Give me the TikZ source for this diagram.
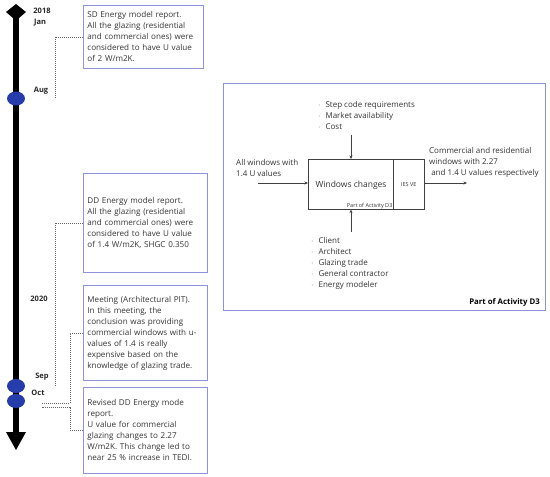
\documentclass[tikz,border=0pt]{standalone}
\usepackage{fontspec}
\setmainfont{Open Sans}
\usetikzlibrary{arrows.meta,shapes.geometric}
\definecolor{boxc}{HTML}{8E92D8}
\definecolor{dotc}{HTML}{2B46C8}
\begin{document}
\begin{tikzpicture}[x=1pt,y=-1pt,
  evbox/.style={draw=boxc,line width=0.8pt,anchor=north west,align=left,inner xsep=4pt,
     font=\fontsize{8.1}{11}\selectfont,text=black!80},
  tlab/.style={font=\bfseries\fontsize{7.5}{9}\selectfont,text=black!85},
  conn/.style={draw=black!60,line width=0.6pt,dash pattern=on 1pt off 1pt},
  dot/.style={ellipse,fill=dotc!85!black,minimum width=18pt,minimum height=14pt,inner sep=0pt},
  flow/.style={draw=black!75,line width=0.6pt,-{Stealth[length=3.5pt,width=3pt]}},
  small/.style={font=\fontsize{7.8}{11}\selectfont,text=black!80},
  bl/.style={font=\fontsize{8}{11}\selectfont,text=black!80,align=left,anchor=north west,inner sep=0pt}]
\useasboundingbox (0,0) rectangle (550,477);
% timeline
\coordinate (ttop) at (16,4);
\coordinate (tbot) at (16,450);
\draw[line width=6pt] (16,15) -- (16,436);
\fill (ttop) -- (26,12) -- (19,18) -- (13,18) -- (6,12) -- cycle;
\fill (tbot) -- (6,432) -- (26,432) -- cycle;
\node[dot] (d1) at (16,98.5) {};
\node[dot] (d2) at (16,386) {};
\node[dot] (d3) at (16,401) {};
% labels
\node[tlab] (l2018) at (42,11) {2018};
\node[tlab] (ljan) at (40,23) {Jan};
\node[tlab] (laug) at (41,91) {Aug};
\node[tlab] (l2020) at (39,299) {2020};
\node[tlab] (lsep) at (42,377) {Sep};
\node[tlab] (loct) at (38,393) {Oct};
% boxes
\node[evbox,minimum width=120pt,minimum height=63pt,text width=112pt] (b1) at (83,5)
 {SD Energy model report.\\All the glazing (residential\\and commercial ones) were\\considered to have U value\\of 2 W/m2K.};
\node[evbox,minimum width=124pt,minimum height=99pt,text width=116pt] (b2) at (83,173)
 {DD Energy model report.\\All the glazing (residential\\and commercial ones) were\\considered to have U value\\of 1.4 W/m2K, SHGC 0.350};
\node[evbox,minimum width=124pt,minimum height=95pt,text width=116pt] (b3) at (83,285)
 {Meeting (Architectural PIT).\\In this meeting, the\\conclusion was providing\\commercial windows with u-\\values of 1.4 is really\\expensive based on the\\knowledge of glazing trade.};
\node[evbox,minimum width=124pt,minimum height=86pt,text width=116pt] (b4) at (83,387)
 {Revised DD Energy mode\\report.\\U value for commercial\\glazing changes to 2.27\\W/m2K. This change led to\\near 25 \% increase in TEDI.};
% connectors
\coordinate (c1) at (55,98);
\coordinate (c2) at (55,385);
\coordinate (c3) at (70,403);
\coordinate (c3e) at (42,403);
\coordinate (c4) at (70,407);
\coordinate (c4e) at (42,407);
\draw[conn] (b1.west) -| (c1);
\draw[conn] (b2.west) -| (c2);
\draw[conn] (b3.west) -| (c3) -- (c3e);
\draw[conn] (b4.west) -| (c4) -- (c4e);
% right panel
\node[draw=boxc,line width=0.8pt,minimum width=322pt,minimum height=227pt,anchor=north west,inner sep=0pt] (panel) at (223,83) {};
\node[font=\bfseries\fontsize{7.8}{9}\selectfont,anchor=south east,inner sep=0pt] (ptitle) at (540,307) {Part of Activity D3};
\node[draw=black!75,line width=0.6pt,minimum width=85pt,minimum height=50pt,anchor=north west,inner sep=0pt] (wc) at (308,159) {};
\node[draw=black!75,line width=0.6pt,minimum width=31pt,minimum height=50pt,anchor=north west,inner sep=0pt] (ies) at (393,159) {};
\node[small,font=\fontsize{8.5}{11}\selectfont] (wct) at (351,185) {Windows changes};
\node[font=\fontsize{5.5}{7}\selectfont,text=black!80,anchor=south east,inner sep=1pt] (wcp) at (wc.south east) {Part of Activity D3};
\node[font=\fontsize{5.5}{7}\selectfont,text=black!80] (iest) at (ies.center) {IES VE};
% flows
\coordinate (inS) at (258,183);
\coordinate (outE) at (467,183);
\coordinate (topS) at (351,135);
\coordinate (botS) at (351,232);
\draw[flow] (inS) -- (wc.west |- inS);
\draw[flow] (ies.east |- outE) -- (outE);
\draw[flow] (topS) -- (wc.north -| topS);
\draw[flow] (botS) -- (wc.south -| botS);
\node[bl] (intext) at (236,159) {All windows with\\1.4 U values};
\node[bl] (outtext) at (429,147) {Commercial and residential\\windows with 2.27\\\ and 1.4 U values respectively};
\node[bl] (toplist) at (318,101) {$\cdot$\hspace{5pt}Step code requirements\\$\cdot$\hspace{5pt}Market availability\\$\cdot$\hspace{5pt}Cost};
\node[bl] (botlist) at (311,237) {$\cdot$\hspace{5pt}Client\\$\cdot$\hspace{5pt}Architect\\$\cdot$\hspace{5pt}Glazing trade\\$\cdot$\hspace{5pt}General contractor\\$\cdot$\hspace{5pt}Energy modeler};
\end{tikzpicture}
\end{document}
